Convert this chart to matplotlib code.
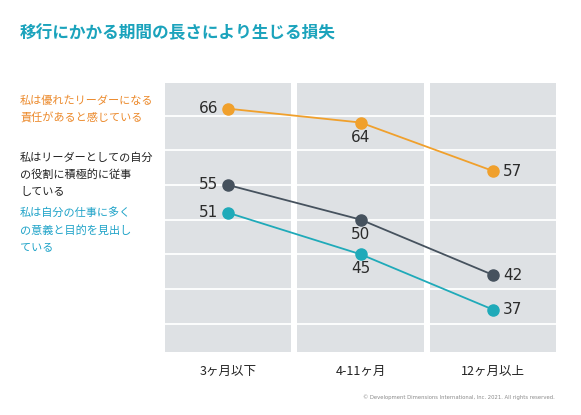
import matplotlib.pyplot as plt

plt.rcParams['font.family'] = ['Noto Sans CJK JP', 'DejaVu Sans']

categories = ["3ヶ月以下", "4-11ヶ月", "12ヶ月以上"]
leader_resp = [66, 64, 57]      # 責任があると感じている
engaged = [55, 50, 42]          # 積極的に従事している
meaning = [51, 45, 37]          # 意義と目的を見出している

series_labels = ["私は優れたリーダーになる\n責任があると感じている",
                 "私はリーダーとしての自分\nの役割に積極的に従事\nしている",
                 "私は自分の仕事に多く\nの意義と目的を見出し\nている"]

orange = "#f0a02c"
slate = "#46525e"
teal = "#1faab9"
label_pos = ["left", "below", "right"]

fig = plt.figure(figsize=(5.81, 4.15), dpi=100)
ax = fig.add_axes([164/581, 1-352/415, (557-164)/581, (352-83)/415])

x = list(range(len(categories)))
for i in x:
    ax.axvspan(i-0.475, i+0.475, color="#dee1e4", lw=0, zorder=0)
for g in range(35, 70, 5):
    ax.axhline(g, color="white", lw=1.3, zorder=1)

for vals, col in [(leader_resp, orange), (engaged, slate), (meaning, teal)]:
    ax.plot(x, vals, color=col, lw=1.3, marker="o", ms=8, zorder=3)
    for i, v in enumerate(vals):
        if label_pos[i] == "left":
            ax.annotate(str(v), (i, v), xytext=(-7, 0), textcoords="offset points",
                        ha="right", va="center", fontsize=11, color="#2b2b2b",
                        family="DejaVu Sans")
        elif label_pos[i] == "below":
            ax.annotate(str(v), (i, v), xytext=(0, -10.5), textcoords="offset points",
                        ha="center", va="center", fontsize=11, color="#2b2b2b",
                        family="DejaVu Sans")
        else:
            ax.annotate(str(v), (i, v), xytext=(7, 0), textcoords="offset points",
                        ha="left", va="center", fontsize=11, color="#2b2b2b",
                        family="DejaVu Sans")

ax.set_xlim(-0.48, 2.48)
ax.set_ylim(30.9, 69.7)
ax.set_xticks(x)
ax.set_xticklabels(categories, fontsize=9, color="#222222")
ax.tick_params(axis="x", length=0, pad=9)
ax.set_yticks([])
for s in ax.spines.values():
    s.set_visible(False)

fig.text(20/581, 1-33/415, "移行にかかる期間の長さにより生じる損失", fontsize=12,
         fontweight="bold", color="#1ba3bc", va="center")
fig.text(20/581, 1-95/415, series_labels[0], fontsize=8, color="#ec8a2c",
         va="top", linespacing=1.8)
fig.text(20/581, 1-152/415, series_labels[1], fontsize=8, color="#222222",
         va="top", linespacing=1.8)
fig.text(20/581, 1-207/415, series_labels[2], fontsize=8, color="#1fa3c8",
         va="top", linespacing=1.8)
fig.text(555/581, 1-397/415, "© Development Dimensions International, Inc. 2021. All rights reserved.",
         fontsize=3.8, color="#8a8a8a", ha="right", va="center", family="DejaVu Sans")

fig.savefig("out.png", dpi=100)
